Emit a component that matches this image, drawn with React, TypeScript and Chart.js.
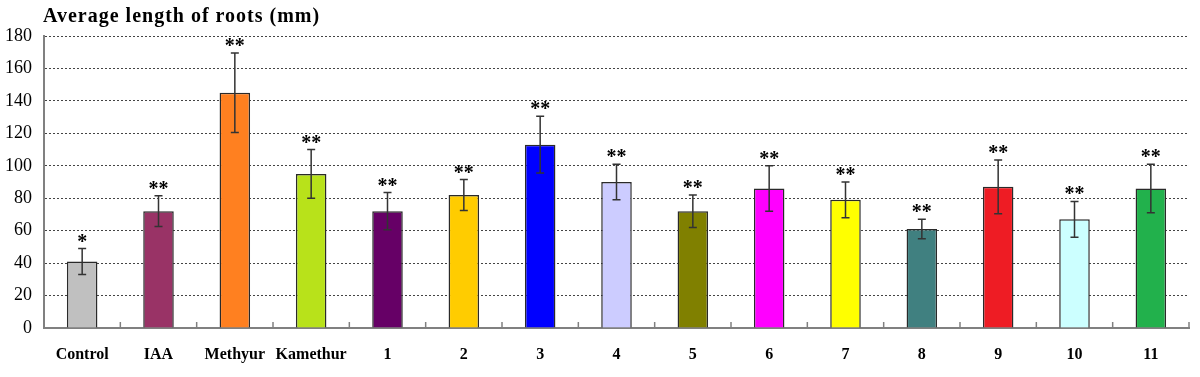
import React, { useEffect, useRef } from "react";
import { Chart, registerables } from "chart.js";

Chart.register(...registerables);

const categories = ["Control", "IAA", "Methyur", "Kamethur", "1", "2", "3", "4", "5", "6", "7", "8", "9", "10", "11"];
const meanLength = [41, 72, 145, 95, 72, 82, 113, 90, 72, 86, 79, 61, 87, 67, 86];
const errorSD = [8, 9.5, 24.5, 15, 11.5, 9.5, 17.5, 11, 10, 14, 11, 6, 16.5, 11, 15];
const significance = ["*", "**", "**", "**", "**", "**", "**", "**", "**", "**", "**", "**", "**", "**", "**"];
const barColors = [
  "#c0c0c0", "#993366", "#ff8020", "#b8e21a", "#660066", "#ffcc00", "#0000ff", "#ccccff",
  "#808000", "#ff00ff", "#ffff00", "#408080", "#ee1c24", "#ccffff", "#22b14c",
];
const yTicks = [0, 20, 40, 60, 80, 100, 120, 140, 160, 180];
const titleText = "Average length of roots (mm)";

const SERIF = "'Liberation Serif', 'Times New Roman', serif";

const overlayPlugin = {
  id: "overlay",
  afterDatasetsDraw(chart: any) {
    const ctx = chart.ctx;
    const x = chart.scales.x;
    const y = chart.scales.y;
    const area = chart.chartArea;
    ctx.save();
    ctx.strokeStyle = "#333";
    ctx.lineWidth = 1.5;
    meanLength.forEach((v, i) => {
      const px = x.getPixelForValue(i);
      const top = y.getPixelForValue(v + errorSD[i]);
      const bot = y.getPixelForValue(v - errorSD[i]);
      ctx.beginPath();
      ctx.moveTo(px, top);
      ctx.lineTo(px, bot);
      ctx.moveTo(px - 4, top);
      ctx.lineTo(px + 4, top);
      ctx.moveTo(px - 4, bot);
      ctx.lineTo(px + 4, bot);
      ctx.stroke();
      ctx.fillStyle = "#000";
      ctx.font = `bold 20px ${SERIF}`;
      ctx.textAlign = "center";
      ctx.textBaseline = "alphabetic";
      ctx.fillText(significance[i], px, top - 1);
    });
    ctx.strokeStyle = "#808080";
    ctx.lineWidth = 1.5;
    const n = categories.length;
    const step = (area.right - area.left) / n;
    for (let k = 1; k <= n; k++) {
      const bx = area.left + k * step;
      ctx.beginPath();
      ctx.moveTo(bx, area.bottom);
      ctx.lineTo(bx, area.bottom - 6);
      ctx.stroke();
    }
    ctx.restore();
  },
  afterDraw(chart: any) {
    const ctx = chart.ctx;
    ctx.save();
    ctx.fillStyle = "#000";
    ctx.font = `bold 20px ${SERIF}`;
    (ctx as any).letterSpacing = "1px";
    ctx.textAlign = "left";
    ctx.textBaseline = "alphabetic";
    ctx.fillText(titleText, 43, 22);
    ctx.restore();
  },
};

export default function App() {
  const ref = useRef<HTMLCanvasElement>(null);
  useEffect(() => {
    if (!ref.current) return;
    const chart = new Chart(ref.current, {
      type: "bar",
      data: {
        labels: categories,
        datasets: [
          {
            data: meanLength,
            backgroundColor: barColors,
            borderColor: "#2a2a2a",
            borderWidth: 1.5,
            barPercentage: 0.4,
            categoryPercentage: 1,
          },
        ],
      },
      options: {
        animation: false,
        responsive: false,
        maintainAspectRatio: false,
        layout: { padding: { top: 36, right: 11, left: 0, bottom: 0 } },
        plugins: { legend: { display: false }, tooltip: { enabled: false }, title: { display: false } },
        scales: {
          x: {
            grid: { display: false },
            border: { color: "#808080", width: 2 },
            ticks: { color: "#000", font: { family: SERIF, size: 16, weight: "bold" }, padding: 9, maxRotation: 0 },
            afterFit(scale: any) {
              scale.height = 49;
            },
          },
          y: {
            min: 0,
            max: 180,
            afterBuildTicks(scale: any) {
              scale.ticks = yTicks.map((v) => ({ value: v }));
            },
            grid: { color: "#444", lineWidth: 1, drawTicks: false },
            border: { color: "#808080", width: 2, dash: [2, 2] },
            ticks: { color: "#000", font: { family: SERIF, size: 18 }, padding: 12 },
            afterFit(scale: any) {
              scale.width = 44;
            },
          },
        },
      },
      plugins: [overlayPlugin],
    } as any);
    return () => chart.destroy();
  }, []);
  return (
    <div style={{ position: "fixed", left: 0, top: 0, width: 1200, height: 377, background: "#fff" }}>
      <canvas ref={ref} width={1200} height={377} style={{ width: 1200, height: 377 }} />
    </div>
  );
}
